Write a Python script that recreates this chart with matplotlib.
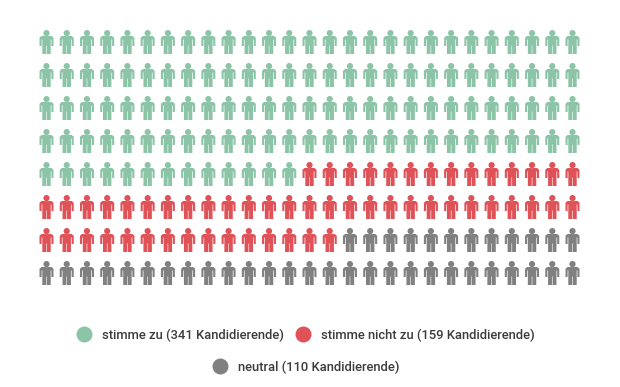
import matplotlib
matplotlib.use("Agg")
import matplotlib.pyplot as plt
import numpy as np
from matplotlib.font_manager import FontProperties
from matplotlib.lines import Line2D
from matplotlib.path import Path

W, H = 620, 387

# one icon stands for roughly 2.8 candidates
labels = ["stimme zu (341 Kandidierende)", "stimme nicht zu (159 Kandidierende)", "neutral (110 Kandidierende)"]
icon_counts = [121, 56, 39]
colors = ["#8CC4A7", "#DF5258", "#808080"]
n_cols = 27
n_rows = 8


def person_marker():
    """Person icon as one compound path, units are pixels around the centre"""
    head = Path.circle((0, 8.9), 3.1)
    body = Path(np.array([
        (-5, 6), (5, 6), (7, 4.2), (7, -4), (4.9, -4), (4.9, 2.5), (4.2, 2.5),
        (4.2, -12), (0.3, -12), (0.3, -3.5), (-0.3, -3.5), (-0.3, -12), (-4.2, -12),
        (-4.2, 2.5), (-4.9, 2.5), (-4.9, -4), (-7, -4), (-7, 4.2), (-5, 6),
    ]), closed=True)
    return Path.make_compound_path(head, body)


def icon_cells():
    """Row and column of each icon, filled row by row"""
    total = sum(icon_counts)
    return np.arange(total) % n_cols, np.arange(total) // n_cols


def main():
    fig = plt.figure(figsize=(W / 100, H / 100), dpi=100)
    left, right = 46.5, 572.5
    top, bottom = 42, 273
    ax = fig.add_axes([left / W, 1 - bottom / H, (right - left) / W, (bottom - top) / H])
    ax.set_xlim(0, n_cols - 1)
    ax.set_ylim(n_rows - 1, 0)
    ax.axis("off")

    cols, rows = icon_cells()
    point_colors = np.repeat(colors, icon_counts)
    # custom markers get scaled to the size of their longest side, 24 px here
    size = (24 * 72 / 100) ** 2
    ax.scatter(cols, rows, s=size, marker=person_marker(), c=point_colors, linewidths=0, clip_on=False)

    handles = [Line2D([], [], ls="", marker="o", ms=11.5, mew=0, color=c) for c in colors]
    leg_font = FontProperties(family="Roboto", size=9.4, weight="medium")
    fig.legend(handles[:2], labels[:2], ncol=2, loc="center", bbox_to_anchor=(305.5 / W, 1 - 335 / H),
               frameon=False, prop=leg_font, labelcolor="#3c3c3c", handletextpad=0.77,
               columnspacing=0.84, handlelength=1.22, borderpad=0, borderaxespad=0)
    fig.legend(handles[2:], labels[2:], ncol=1, loc="center", bbox_to_anchor=(306 / W, 1 - 367 / H),
               frameon=False, prop=leg_font, labelcolor="#3c3c3c", handletextpad=0.77,
               handlelength=1.22, borderpad=0, borderaxespad=0)
    fig.savefig("out.png", dpi=100)


if __name__ == "__main__":
    main()
